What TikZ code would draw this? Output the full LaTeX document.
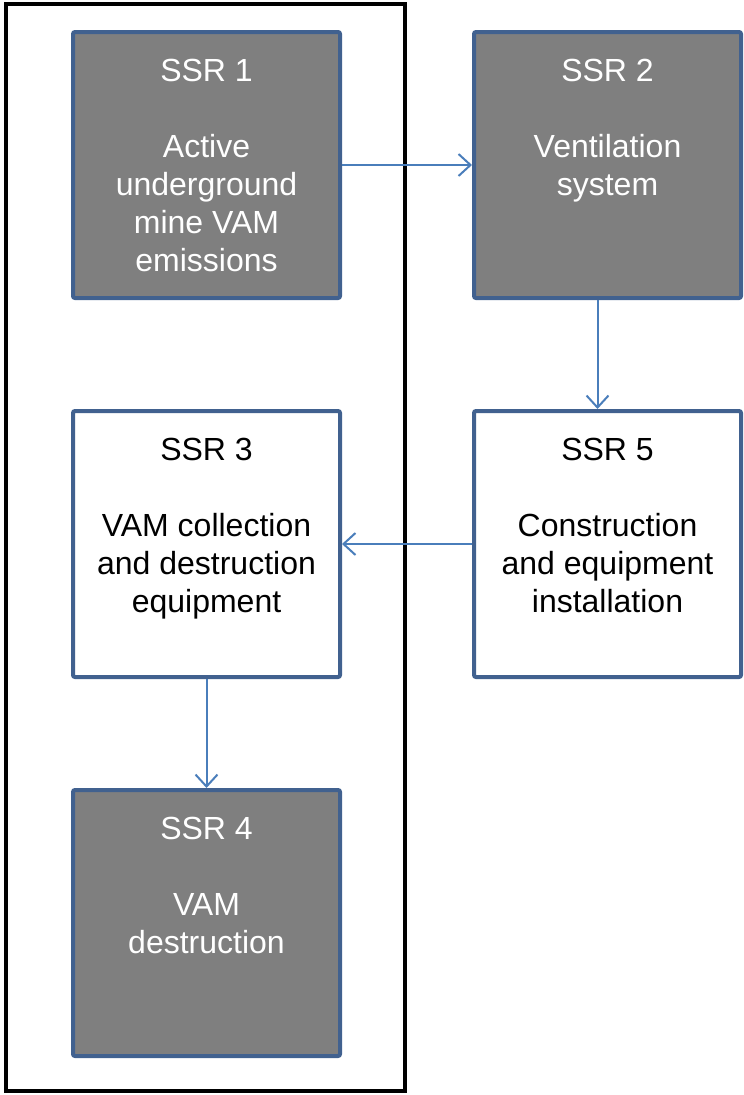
\documentclass[tikz,border=0pt]{standalone}
\usepackage{fontspec}
\setmainfont{Liberation Sans}
\usetikzlibrary{positioning,arrows.meta}
\definecolor{boxblue}{HTML}{41618F}
\definecolor{linkblue}{HTML}{4A7EBB}
\definecolor{boxgray}{HTML}{7F7F7F}

\begin{document}
\begin{tikzpicture}[x=1pt, y=-1pt, >={Straight Barb[length=12pt,width=22pt]},
  node distance=109pt and 130pt,
  ssrbox/.style={draw=boxblue, line width=4pt, rounded corners=2pt, minimum width=267pt, minimum height=266pt},
  dark/.style={ssrbox, fill=boxgray},
  light/.style={ssrbox, fill=white},
  ssrtext/.style={inner sep=0pt, align=center, font=\fontsize{32}{38}\selectfont},
  link/.style={->, draw=linkblue, line width=2pt}]
  \useasboundingbox (0,0) rectangle (744,1095);

  % boundary
  \draw[line width=4pt] (6,4) rectangle (405,1091);

  \node[dark] (ssr1) at (206.5,165) {};
  \node[dark, right=of ssr1] (ssr2) {};
  \node[light, below=of ssr1] (ssr3) {};
  \node[light, below=of ssr2] (ssr5) {};
  \node[dark, below=of ssr3] (ssr4) {};

  \node[ssrtext, text=white, below=29pt of ssr1.north] (ssr1t) {SSR 1\\[38pt]Active\\underground\\mine VAM\\emissions};
  \node[ssrtext, text=white, below=29pt of ssr2.north] (ssr2t) {SSR 2\\[38pt]Ventilation\\system};
  \node[ssrtext, below=29pt of ssr3.north] (ssr3t) {SSR 3\\[38pt]VAM collection\\and destruction\\equipment};
  \node[ssrtext, below=29pt of ssr5.north] (ssr5t) {SSR 5\\[38pt]Construction\\and equipment\\installation};
  \node[ssrtext, text=white, below=29pt of ssr4.north] (ssr4t) {SSR 4\\[38pt]VAM\\destruction};

  \draw[link] (ssr1) -- (ssr2);
  \draw[link] ([xshift=-10pt]ssr2.south) -- ([xshift=-10pt]ssr5.north);
  \draw[link] (ssr5) -- (ssr3);
  \draw[link] (ssr3) -- (ssr4);
\end{tikzpicture}
\end{document}
